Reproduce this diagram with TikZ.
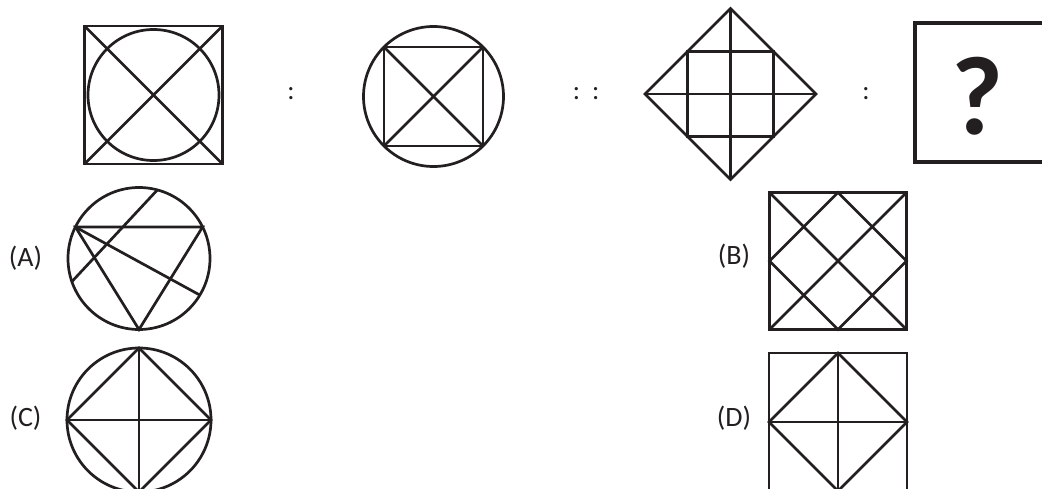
\documentclass[tikz,border=0pt]{standalone}
\usepackage{fontspec}
\setmainfont{Carlito}
\usetikzlibrary{positioning}
\definecolor{dblack}{HTML}{231F20}

\begin{document}
\begin{tikzpicture}[x=1pt, y=-1pt,
    fig/.style={draw=dblack, line width=2.7pt, line join=miter},
    lbl/.style={font=\fontsize{28}{32}\selectfont, text=dblack},
    sep/.style={font=\fontsize{27}{30}\selectfont, text=dblack},
    qbox/.style={draw=dblack, line width=4pt},
]
\useasboundingbox (0,0) rectangle (1042,489);
\clip (0,0) rectangle (1042,489);

% Problem figures
\begin{scope}[shift={(153.5,95)}]
  \draw[fig] (-69,-69) rectangle (69,69);
  \draw[fig] (0,0) circle[radius=65.5];
  \draw[fig] (-69,-69) -- (69,69) (69,-69) -- (-69,69);
\end{scope}
\node[sep] (sep1) at (291,94) {:};

\begin{scope}[shift={(433.5,96.5)}]
  \draw[fig] (0,0) circle[radius=70];
  \draw[fig] (-49.5,-49.5) rectangle (49.5,49.5);
  \draw[fig] (-49.5,-49.5) -- (49.5,49.5) (49.5,-49.5) -- (-49.5,49.5);
\end{scope}
\node[sep] (sep2) at (586,94) {:\hspace{12pt}:};

\begin{scope}[shift={(730.5,94)}]
  \draw[fig] (0,-85.5) -- (85.5,0) -- (0,85.5) -- (-85.5,0) -- cycle;
  \draw[fig] (-42.75,-42.75) rectangle (42.75,42.75);
  \draw[fig] (0,-85.5) -- (0,85.5) (-85.5,0) -- (85.5,0);
\end{scope}
\node[sep] (sep3) at (866,94) {:};

% Question box
\draw[qbox] (915,23) rectangle (1070,162);
\node[font=\bfseries\fontsize{112}{112}\selectfont, text=dblack] (qmark) at (977,96) {?};

% Answer figures
\begin{scope}[shift={(139,258.5)}]
  \draw[fig] (0,0) circle[radius=71];
  \draw[fig] (-63.6,-31.5) -- (63.6,-31.5) -- (0,71) -- cycle;
  \draw[fig] (-67.1,23.1) -- (18.4,-68.6);
  \draw[fig] (-63.6,-31.5) -- (60.9,36.6);
\end{scope}
\node[lbl] (optA) at (25.5,258) {(A)};

\begin{scope}[shift={(838,261)}]
  \draw[fig] (-68.5,-68.5) rectangle (68.5,68.5);
  \draw[fig] (0,-68.5) -- (68.5,0) -- (0,68.5) -- (-68.5,0) -- cycle;
  \draw[fig] (-68.5,-68.5) -- (68.5,68.5) (68.5,-68.5) -- (-68.5,68.5);
\end{scope}
\node[lbl] (optB) at (734,256) {(B)};

\begin{scope}[shift={(139,420)}]
  \draw[fig] (0,0) circle[radius=72];
  \draw[fig] (0,-72) -- (72,0) -- (0,72) -- (-72,0) -- cycle;
  \draw[fig] (0,-72) -- (0,72) (-72,0) -- (72,0);
\end{scope}
\node[lbl] (optC) at (25.5,418) {(C)};

\begin{scope}[shift={(838,422)}]
  \draw[fig] (-69,-69) rectangle (69,69);
  \draw[fig] (0,-69) -- (69,0) -- (0,69) -- (-69,0) -- cycle;
  \draw[fig] (0,-69) -- (0,69) (-69,0) -- (69,0);
\end{scope}
\node[lbl] (optD) at (734,418) {(D)};

\end{tikzpicture}
\end{document}
